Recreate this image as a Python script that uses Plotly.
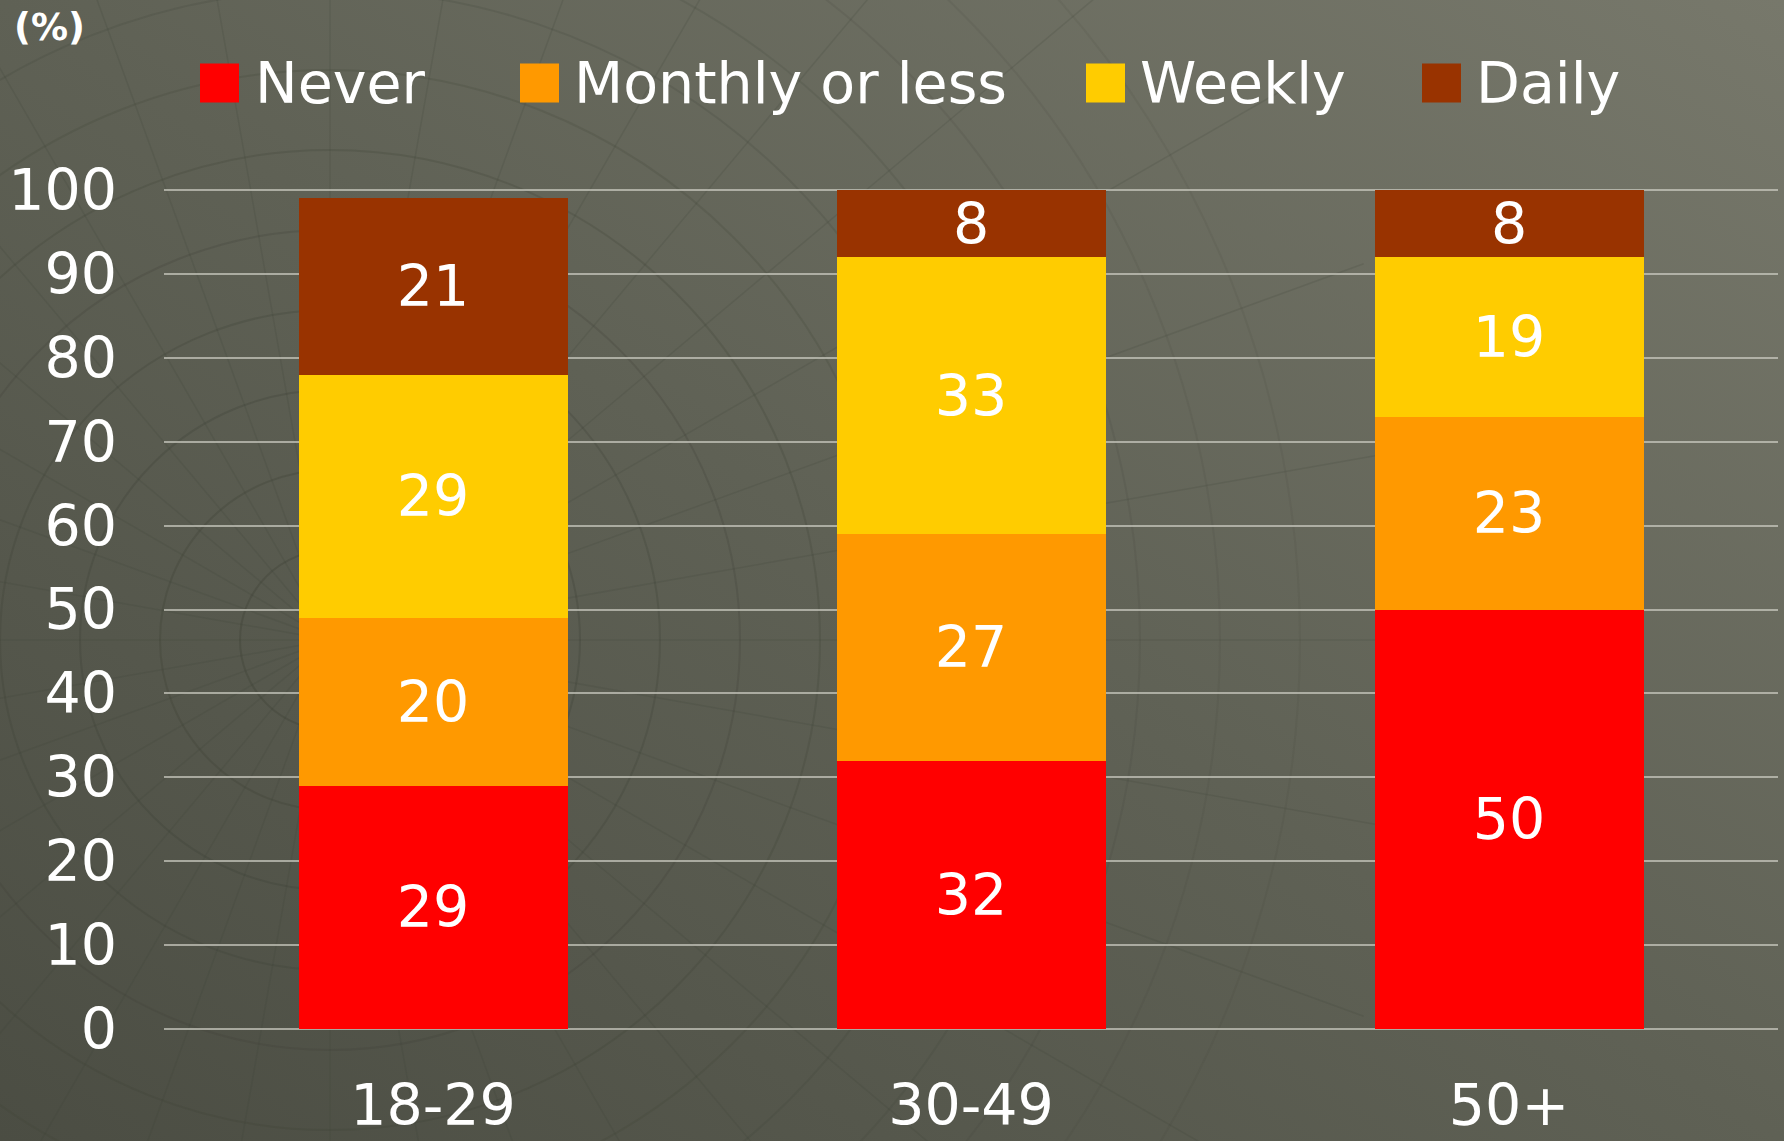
import base64
import math
import plotly.graph_objects as go

W, H = 1784, 1141

categories = ["18-29", "30-49", "50+"]
series_names = ["Never", "Monthly or less", "Weekly", "Daily"]
never = [29, 32, 50]
monthly = [20, 27, 23]
weekly = [29, 33, 19]
daily = [21, 8, 8]
colors = ["#FF0000", "#FF9900", "#FFCC00", "#993300"]
y_ticks = [0, 10, 20, 30, 40, 50, 60, 70, 80, 90, 100]

FONT = "Verdana, DejaVu Sans, sans-serif"

fig = go.Figure()
for name, vals, col in zip(series_names, [never, monthly, weekly, daily], colors):
    fig.add_trace(go.Bar(
        x=categories, y=vals, name=name,
        marker=dict(color=col, line=dict(width=0)),
        width=0.5,
        text=[str(v) for v in vals],
        textposition="inside", insidetextanchor="middle", textangle=0,
        textfont=dict(color="white", size=57, family=FONT),
        constraintext="none",
        showlegend=False,
    ))

# Background: gradient plus faint decorative polar grid (theme texture)
deco = []
cx, cy0 = 330, 640
for i, r in enumerate(range(90, 1000, 80)):
    op = max(0.05, 0.34 - i * 0.022)
    deco.append(f"<circle cx='{cx}' cy='{cy0}' r='{r}' fill='none' stroke='#3e4136' stroke-opacity='{op:.3f}' stroke-width='2'/>")
for k in range(0, 360, 10):
    a = math.radians(k)
    x2 = cx + 1100 * math.cos(a)
    y2 = cy0 + 1100 * math.sin(a)
    deco.append(f"<line x1='{cx}' y1='{cy0}' x2='{x2:.1f}' y2='{y2:.1f}' stroke='#3e4136' stroke-opacity='0.18' stroke-width='1.5'/>")
svg = (
    "<svg xmlns='http://www.w3.org/2000/svg' width='1784' height='1141' "
    "viewBox='0 0 1784 1141' preserveAspectRatio='none'>"
    "<defs><linearGradient id='g' x1='0' y1='1' x2='1' y2='0'>"
    "<stop offset='0' stop-color='#4b4d43'/>"
    "<stop offset='0.5' stop-color='#5f6155'/>"
    "<stop offset='1' stop-color='#77786b'/>"
    "</linearGradient></defs>"
    "<rect width='1784' height='1141' fill='url(#g)'/>"
    + "".join(deco) +
    "</svg>"
)
src = "data:image/svg+xml;base64," + base64.b64encode(svg.encode()).decode()

shapes = []
annotations = []
# custom legend (large squares as in reference)
leg_sq_x = [200, 520, 1086, 1422]
leg_tx_x = [253, 572, 1138, 1474]
sq = 39
cy = 83
for name, col, sx, tx in zip(series_names, colors, leg_sq_x, leg_tx_x):
    shapes.append(dict(type="rect", xref="paper", yref="paper",
                       x0=sx / W, x1=(sx + sq) / W,
                       y0=1 - (cy + sq / 2) / H, y1=1 - (cy - sq / 2) / H,
                       fillcolor=col, line=dict(width=0), layer="above"))
    annotations.append(dict(text=name, x=tx / W, y=1 - cy / H, xref="paper", yref="paper",
                            xanchor="left", yanchor="middle", showarrow=False,
                            font=dict(color="white", size=57, family=FONT)))

annotations.append(dict(text="<b>(%)</b>", x=12 / W, y=1 - 27 / H, xref="paper", yref="paper",
                        xanchor="left", yanchor="middle", showarrow=False,
                        font=dict(color="white", size=37, family=FONT)))

y_top_px, y_bot_px = 190, 1029
ymax = 100.4
dom_top = y_bot_px - (y_bot_px - y_top_px) * ymax / 100

fig.update_layout(
    width=W, height=H,
    margin=dict(l=0, r=0, t=0, b=0, pad=0, autoexpand=False),
    paper_bgcolor="#5f6155",
    plot_bgcolor="rgba(0,0,0,0)",
    barmode="stack",
    bargap=0.5,
    showlegend=False,
    images=[dict(source=src, xref="paper", yref="paper", x=0, y=1, sizex=1, sizey=1,
                 xanchor="left", yanchor="top", sizing="stretch", layer="below")],
    shapes=shapes,
    annotations=annotations,
    xaxis=dict(domain=[164 / W, 1778 / W], showgrid=False, zeroline=False, showline=False,
               ticks="", automargin=False,
               tickfont=dict(color="white", size=57, family=FONT),
               ticklabelstandoff=38),
    yaxis=dict(domain=[1 - y_bot_px / H, 1 - dom_top / H], range=[0, ymax], tickvals=y_ticks,
               showgrid=True, gridcolor="rgba(205,205,195,0.7)", gridwidth=2,
               zeroline=True, zerolinecolor="rgba(205,205,195,0.7)", zerolinewidth=2,
               showline=False, ticks="", automargin=False,
               tickfont=dict(color="white", size=57, family=FONT),
               ticklabelstandoff=46),
)

fig.write_html("out.html", config={"displayModeBar": False},
               post_script="document.body.style.margin='0';document.body.style.overflow='hidden';")
